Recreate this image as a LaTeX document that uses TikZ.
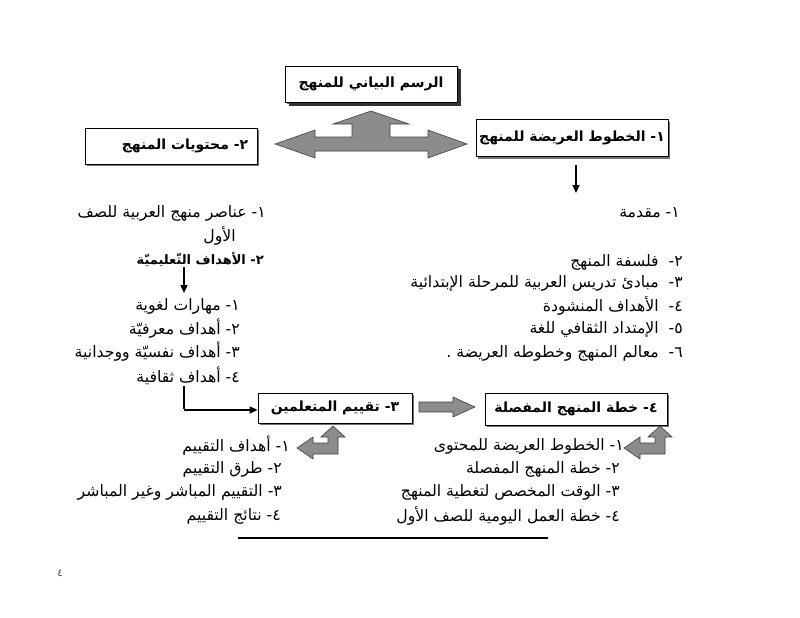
\documentclass[tikz,border=0pt]{standalone}
\usepackage{fontspec}
\usetikzlibrary{arrows.meta,shadows}
\TeXXeTstate=1
\newfontfamily\arabicfont[Script=Arabic]{DejaVu Sans}
\newcommand{\AR}[1]{{\arabicfont\beginR #1\endR}}
\tikzset{
  box/.style={draw=black, line width=0.8pt, fill=white, inner sep=0pt,
    drop shadow={shadow xshift=2pt, shadow yshift=-2pt, fill=black!55, opacity=1}},
  bigbox/.style={box, drop shadow={shadow xshift=3.5pt, shadow yshift=-3.5pt, fill=black!80, opacity=1}},
  boxtxt/.style={inner sep=0pt, font=\fontsize{14}{16}\selectfont\bfseries},
  ltxt/.style={inner sep=0pt, anchor=east, font=\fontsize{15.7}{18}\selectfont},
  garrow/.style={fill=black!45, draw=black!75, line width=0.6pt},
  blackarrow/.style={line width=1.3pt, -{Triangle[length=8pt,width=7pt]}},
}
\begin{document}
\begin{tikzpicture}[x=1pt,y=-1pt]
\useasboundingbox (0,0) rectangle (800,618);
% boxes
\node[bigbox, minimum width=172pt, minimum height=36pt] (title) at (371,84) {};
\node[boxtxt] (titletxt) at (title.center) {\AR{الرسم البياني للمنهج}};
\node[box, minimum width=172pt, minimum height=36pt] (b2) at (171,146) {};
\node[boxtxt, anchor=east] (b2txt) at ([xshift=-9pt]b2.east) {\AR{٢- محتويات المنهج}};
\node[box, minimum width=192pt, minimum height=37pt] (b1) at (572,138) {};
\node[boxtxt] (b1txt) at (b1.center) {\AR{١- الخطوط العريضة للمنهج}};
\node[box, minimum width=154pt, minimum height=30pt] (b3) at (335,408) {};
\node[boxtxt, anchor=east] (b3txt) at ([xshift=-13pt]b3.east) {\AR{٣- تقييم المتعلمين}};
\node[box, minimum width=182pt, minimum height=32pt] (b4) at (576,409) {};
\node[boxtxt] (b4txt) at (b4.center) {\AR{٤- خطة المنهج المفصلة}};
% gray three-way arrow
\draw[garrow] (275,144) -- (315,130) -- (315,137) -- (352,137) -- (352,124) -- (333,124) -- (371,111)
  -- (409,124) -- (390,124) -- (390,137) -- (428,137) -- (428,130) -- (467,144) -- (428,158)
  -- (428,151) -- (315,151) -- (315,158) -- cycle;
% gray right arrow between b3 and b4
\draw[garrow] (419,402) -- (453,402) -- (453,397) -- (475,407) -- (453,417) -- (453,412) -- (419,412) -- cycle;
% bent arrows
\foreach \ox in {297,624}{
  \draw[garrow, shift={(\ox,426)}] (0,22) -- (16,11) -- (16,17) -- (31,17) -- (31,11) -- (24,11) -- (36,0)
    -- (48,11) -- (41,11) -- (41,28) -- (16,28) -- (16,33) -- cycle;
}
% right list
\node[ltxt] (r1) at (680,213) {\AR{١- مقدمة}};
\node[ltxt] (r2) at (683,262) {\AR{٢-\ \ فلسفة المنهج}};
\node[ltxt] (r3) at (683,283) {\AR{٣-\ \ مبادئ تدريس العربية للمرحلة الإبتدائية}};
\node[ltxt] (r4) at (683,306) {\AR{٤-\ \ الأهداف المنشودة}};
\node[ltxt] (r5) at (683,329) {\AR{٥-\ \ الإمتداد الثقافي للغة}};
\node[ltxt] (r6) at (683,353) {\AR{٦-\ \ معالم المنهج وخطوطه العريضة .}};
% left list
\node[ltxt] (l1) at (266,213) {\AR{١- عناصر منهج العربية للصف}};
\node[ltxt] (l2) at (236,236) {\AR{الأول}};
\node[ltxt, font=\fontsize{13}{15}\selectfont\bfseries] (l3) at (264,259) {\AR{٢- الأهداف التّعليميّة}};
\node[ltxt] (s1) at (240,306) {\AR{١- مهارات لغوية}};
\node[ltxt] (s2) at (240,329) {\AR{٢- أهداف معرفيّة}};
\node[ltxt] (s3) at (240,352) {\AR{٣- أهداف نفسيّة ووجدانية}};
\node[ltxt] (s4) at (240,376) {\AR{٤- أهداف ثقافية}};
% bottom left list
\node[ltxt] (e1) at (290,446) {\AR{١- أهداف التقييم}};
\node[ltxt] (e2) at (282,469) {\AR{٢- طرق التقييم}};
\node[ltxt] (e3) at (282,492) {\AR{٣- التقييم المباشر وغير المباشر}};
\node[ltxt] (e4) at (281,516) {\AR{٤- نتائج التقييم}};
% bottom right list
\node[ltxt] (p1) at (624,446) {\AR{١- الخطوط العريضة للمحتوى}};
\node[ltxt] (p2) at (620,469) {\AR{٢- خطة المنهج المفصلة}};
\node[ltxt] (p3) at (620,492) {\AR{٣- الوقت المخصص لتغطية المنهج}};
\node[ltxt] (p4) at (620,516) {\AR{٤- خطة العمل اليومية للصف الأول}};
% connectors
\coordinate (d1) at (576,193);
\draw[blackarrow] (b1.south -| d1) ++(0,8) coordinate (d1s) -- (d1);
\coordinate (a1s) at (184,267);
\coordinate (a1e) at (184,293);
\draw[blackarrow] (a1s) -- (a1e);
\coordinate (a2s) at (184,386);
\coordinate (a2c) at (184,410);
\draw[line width=1.3pt] (a2s) -- ([yshift=0.65pt]a2c);
\draw[blackarrow] (a2c) -- (b3.west |- a2c);
% bottom rule and page number
\draw[line width=1.8pt] (238,538) -- (548,538);
\node[inner sep=0pt, text=black!75, font=\fontsize{10}{11}\selectfont] (pg) at (60,573) {\AR{٤}};
\end{tikzpicture}
\end{document}
